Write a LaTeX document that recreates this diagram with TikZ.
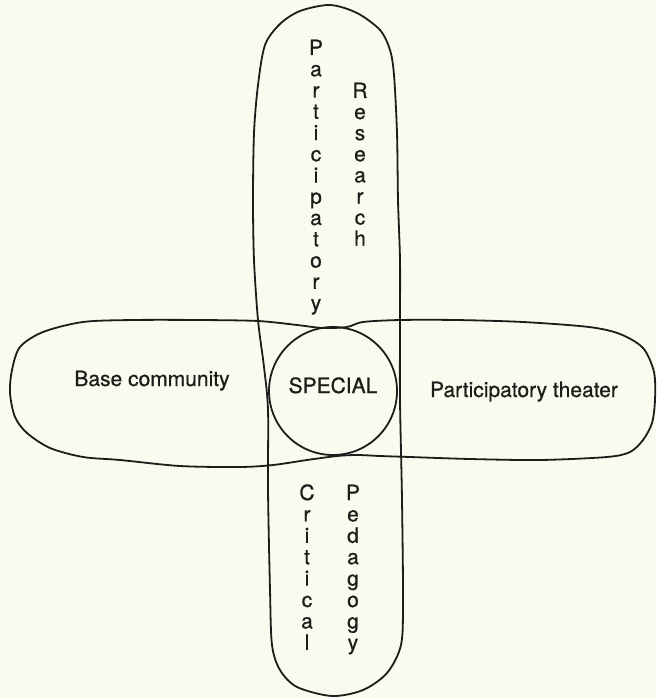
\documentclass[tikz,border=0pt]{standalone}
\usepackage{fontspec}
\setmainfont{TeX Gyre Heros}
\newfontfamily\labfont{TeX Gyre Heros}[FakeBold=0.7]
\definecolor{bg}{RGB}{250,251,238}
\definecolor{ink}{RGB}{28,28,26}
\begin{document}
\begin{tikzpicture}[x=1pt,y=-1pt,
  outline/.style={draw=ink,line width=1.8pt,line join=round},
  lab/.style={text=ink,inner sep=0pt,anchor=base,font=\labfont\fontsize{21}{24}\selectfont}]
\fill[bg] (0,0) rectangle (656,698);
\useasboundingbox (0,0) rectangle (656,698);
% vertical pill
\draw[outline] plot[smooth cycle,tension=0.5] coordinates {
 (330,5) (357,13) (380,30) (390,50) (394,75) (397,133) (398,200) (400,260)
 (400,320) (400,400) (402,500) (403,600) (401,645) (387,673) (363,690)
 (332,696) (297,687) (280,670) (272,645) (270,590) (268,490) (268,410)
 (264,367) (258,320) (254,260) (253,200) (254,133) (258,85) (265,45) (280,24) (300,11)};
% horizontal pill
\draw[outline] plot[smooth cycle,tension=0.5] coordinates {
 (43,332) (83,322) (133,320) (200,320) (258,321) (297,325) (323,328) (347,327)
 (363,322) (400,320) (456,320) (523,322) (589,327) (620,334) (643,348) (654,372)
 (655,400) (652,423) (643,440) (630,452) (607,457) (540,460) (470,459) (410,457)
 (380,456) (357,455) (337,456) (307,460) (273,465) (240,467) (180,466) (120,460)
 (83,457) (50,448) (27,433) (15,417) (10,393) (12,370) (20,347)};
% central circle
\node[outline,circle,minimum size=128pt,inner sep=0pt] (sp) at (333,391) {};
\node[lab] (spt) at (333,393) {SPECIAL};
\node[lab] (base) at (152,386) {Base community};
\node[lab] (theat) at (524,397) {Participatory theater};
% vertical words
\foreach \c [count=\i from 0] in {P,a,r,t,i,c,i,p,a,t,o,r,y}
  \node[lab] (pa\i) at (316,55+21.25*\i) {\c};
\foreach \c [count=\i from 0] in {R,e,s,e,a,r,c,h}
  \node[lab] (re\i) at (360,98+21.1*\i) {\c};
\foreach \c [count=\i from 0] in {C,r,i,t,i,c,a,l}
  \node[lab] (cr\i) at (307,500+21.4*\i) {\c};
\foreach \c [count=\i from 0] in {P,e,d,a,g,o,g,y}
  \node[lab] (pe\i) at (353,500+21.4*\i) {\c};
\end{tikzpicture}
\end{document}
